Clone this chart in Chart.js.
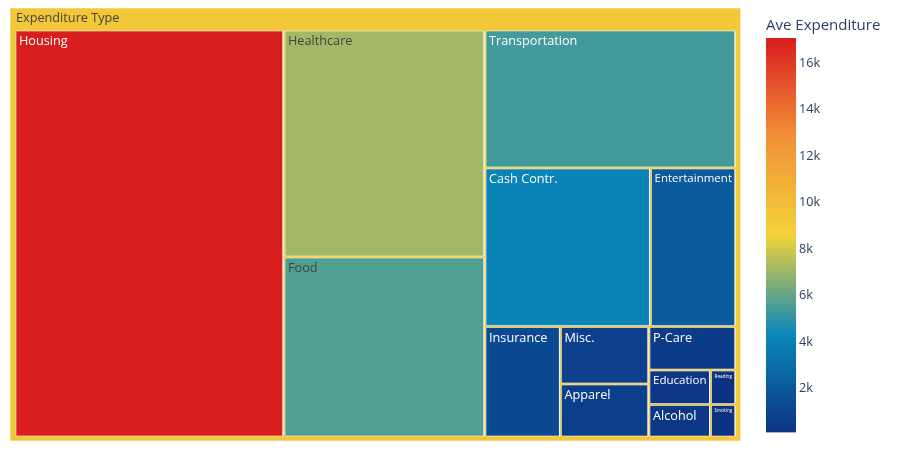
<!DOCTYPE html>
<html lang="en">
  <head>
    <meta charset="UTF-8" />
    <title>Expenditure Treemap</title>
    <script src="https://cdn.jsdelivr.net/npm/chart.js"></script>
    <style>
      body { margin: 0; background: #fff; }
      #wrap { position: relative; width: 900px; height: 467px; }
      #treemap { position: absolute; left: 0; top: 0; }
      #colorbar { position: absolute; left: 766px; top: 11px; }
    </style>
  </head>
  <body>
    <div id="wrap">
      <canvas id="treemap" width="900" height="467"></canvas>
      <canvas id="colorbar" width="134" height="432"></canvas>
    </div>

    <script>
      const rootLabel = "Expenditure Type";
      const categories = [
        "Housing", "Healthcare", "Food", "Transportation", "Cash Contr.",
        "Entertainment", "Insurance", "Misc.", "Apparel", "P-Care",
        "Education", "Alcohol", "Reading", "Smoking",
      ];
      const expenditure = [
        17080, 7119, 5645, 5402, 4093, 2115, 1300, 794, 732, 591, 331, 312, 137, 129,
      ];
      const colorTicks = [2000, 4000, 6000, 8000, 10000, 12000, 14000, 16000];

      const FONT = "'Open Sans', 'DejaVu Sans', sans-serif";
      const LABEL_SIZE = 12.7;
      const W = 731, H = 433; // size of the tree area, in axis units

      // plotly "Portland" colour scale
      const portland = [
        [0, [12, 51, 131]],
        [0.25, [10, 136, 186]],
        [0.5, [242, 211, 56]],
        [0.75, [242, 143, 56]],
        [1, [217, 30, 30]],
      ];
      const cMin = Math.min(...expenditure);
      const cMax = Math.max(...expenditure);

      function scaleColor(v) {
        const t = Math.max(0, Math.min(1, (v - cMin) / (cMax - cMin)));
        for (let i = 1; i < portland.length; i++) {
          const [t1, c1] = portland[i];
          const [t0, c0] = portland[i - 1];
          if (t <= t1) {
            const f = (t - t0) / (t1 - t0);
            return c0.map((c, k) => Math.round(c + (c1[k] - c) * f));
          }
        }
        return portland[portland.length - 1][1];
      }
      const rgb = (c) => `rgb(${c[0]},${c[1]},${c[2]})`;
      const isLight = (c) => (c[0] * 299 + c[1] * 587 + c[2] * 114) / 1000 >= 128;

      // squarified layout (same rules as d3 treemapSquarify, ratio 1)
      function squarify(values, x0, y0, x1, y1) {
        const rects = [];
        let rest = values.reduce((a, b) => a + b, 0);
        let i0 = 0;
        while (i0 < values.length) {
          const dx = x1 - x0, dy = y1 - y0;
          const alpha = Math.max(dy / dx, dx / dy) / rest;
          let sum = values[i0], minV = sum, maxV = sum;
          let b = sum * sum * alpha;
          let best = Math.max(maxV / b, b / minV);
          let i1 = i0 + 1;
          for (; i1 < values.length; i1++) {
            const v = values[i1];
            const s = sum + v;
            b = s * s * alpha;
            const r = Math.max(Math.max(maxV, v) / b, b / Math.min(minV, v));
            if (r > best) break;
            sum = s; best = r;
            minV = Math.min(minV, v); maxV = Math.max(maxV, v);
          }
          if (dx < dy) {
            const yb = i1 < values.length ? y0 + dy * sum / rest : y1;
            let x = x0;
            for (let i = i0; i < i1; i++) {
              const w = dx * values[i] / sum;
              rects[i] = { x0: x, x1: x + w, y0: y0, y1: yb };
              x += w;
            }
            y0 = yb;
          } else {
            const xb = i1 < values.length ? x0 + dx * sum / rest : x1;
            let y = y0;
            for (let i = i0; i < i1; i++) {
              const h = dy * values[i] / sum;
              rects[i] = { x0: x0, x1: xb, y0: y, y1: y + h };
              y += h;
            }
            x0 = xb;
          }
          rest -= sum;
          i0 = i1;
        }
        return rects;
      }

      const rootAve = expenditure.reduce((a, v) => a + v * v, 0) /
        expenditure.reduce((a, v) => a + v, 0);
      const rootColor = scaleColor(rootAve);
      const cells = squarify(expenditure, 5, 22, W - 5, H - 4);

      function box(r, inset) {
        return [
          { x: r.x0 + inset, y: r.y0 + inset },
          { x: r.x1 - inset, y: r.y0 + inset },
          { x: r.x1 - inset, y: r.y1 - inset },
          { x: r.x0 + inset, y: r.y1 - inset },
          { x: r.x0 + inset, y: r.y0 + inset },
        ];
      }

      const tiles = [
        { label: rootLabel, rect: { x0: 0, y0: 0, x1: W, y1: H }, color: rootColor, root: true },
      ].concat(categories.map((c, i) => ({
        label: c, rect: cells[i], color: scaleColor(expenditure[i]), root: false,
      })));

      const datasets = tiles.map((t) => ({
        label: t.label,
        data: box(t.rect, t.root ? 0 : 1),
        showLine: true,
        fill: "shape",
        backgroundColor: rgb(t.color),
        borderColor: "rgba(255,255,255,0.55)",
        borderWidth: 1,
        pointRadius: 0,
        tension: 0,
        order: t.root ? 1 : 0,
      }));

      const tileLabels = {
        id: "tileLabels",
        afterDatasetsDraw(chart) {
          const { ctx, scales } = chart;
          ctx.save();
          ctx.textBaseline = "alphabetic";
          tiles.forEach((t) => {
            const left = scales.x.getPixelForValue(t.rect.x0) + (t.root ? 0 : 1);
            const right = scales.x.getPixelForValue(t.rect.x1) - (t.root ? 0 : 1);
            const top = scales.y.getPixelForValue(t.rect.y0) + (t.root ? 0 : 1);
            ctx.font = `${LABEL_SIZE}px ${FONT}`;
            const wide = ctx.measureText(t.label).width;
            const room = right - left - 6;
            const size = Math.min(LABEL_SIZE, (LABEL_SIZE * room) / wide);
            ctx.font = `${size}px ${FONT}`;
            ctx.fillStyle = isLight(t.color) ? "#444" : "#fff";
            const pad = t.root ? 6 : 3;
            ctx.fillText(t.label, left + pad, top + 2.8 + size * 0.9);
          });
          ctx.restore();
        },
      };

      new Chart(document.getElementById("treemap"), {
        type: "scatter",
        data: { datasets },
        options: {
          responsive: false,
          animation: false,
          layout: { padding: { left: 10, top: 8, right: 900 - 741, bottom: 467 - 441 } },
          plugins: { legend: { display: false }, tooltip: { enabled: false } },
          scales: {
            x: { type: "linear", min: 0, max: W, display: false },
            y: { type: "linear", min: 0, max: H, reverse: true, display: false },
          },
        },
        plugins: [tileLabels],
      });

      // colour bar
      function barGradient(context) {
        const { ctx, chartArea } = context.chart;
        if (!chartArea) return "#888";
        const g = ctx.createLinearGradient(0, chartArea.bottom, 0, chartArea.top);
        portland.forEach(([t, c]) => g.addColorStop(t, rgb(c)));
        return g;
      }

      new Chart(document.getElementById("colorbar"), {
        type: "bar",
        data: {
          labels: [""],
          datasets: [{
            data: [[cMin, cMax]],
            backgroundColor: barGradient,
            borderWidth: 0,
            barPercentage: 1,
            categoryPercentage: 1,
          }],
        },
        options: {
          responsive: false,
          animation: false,
          layout: { padding: 0 },
          plugins: {
            legend: { display: false },
            tooltip: { enabled: false },
            title: {
              display: true,
              text: "Ave Expenditure",
              align: "start",
              color: "#2a3f5f",
              font: { family: FONT, size: 15, weight: "normal" },
              padding: { top: 6, bottom: 3 },
            },
          },
          scales: {
            x: { display: false },
            y: {
              position: "right",
              min: cMin,
              max: cMax,
              grid: { display: false, drawTicks: false },
              border: { display: false },
              afterBuildTicks: (s) => { s.ticks = colorTicks.map((v) => ({ value: v })); },
              afterFit: (s) => { s.width = 104; },
              ticks: {
                color: "#2a3f5f",
                font: { family: FONT, size: 12.7 },
                padding: 3,
                callback: (v) => v / 1000 + "k",
              },
            },
          },
        },
      });
    </script>
  </body>
</html>
